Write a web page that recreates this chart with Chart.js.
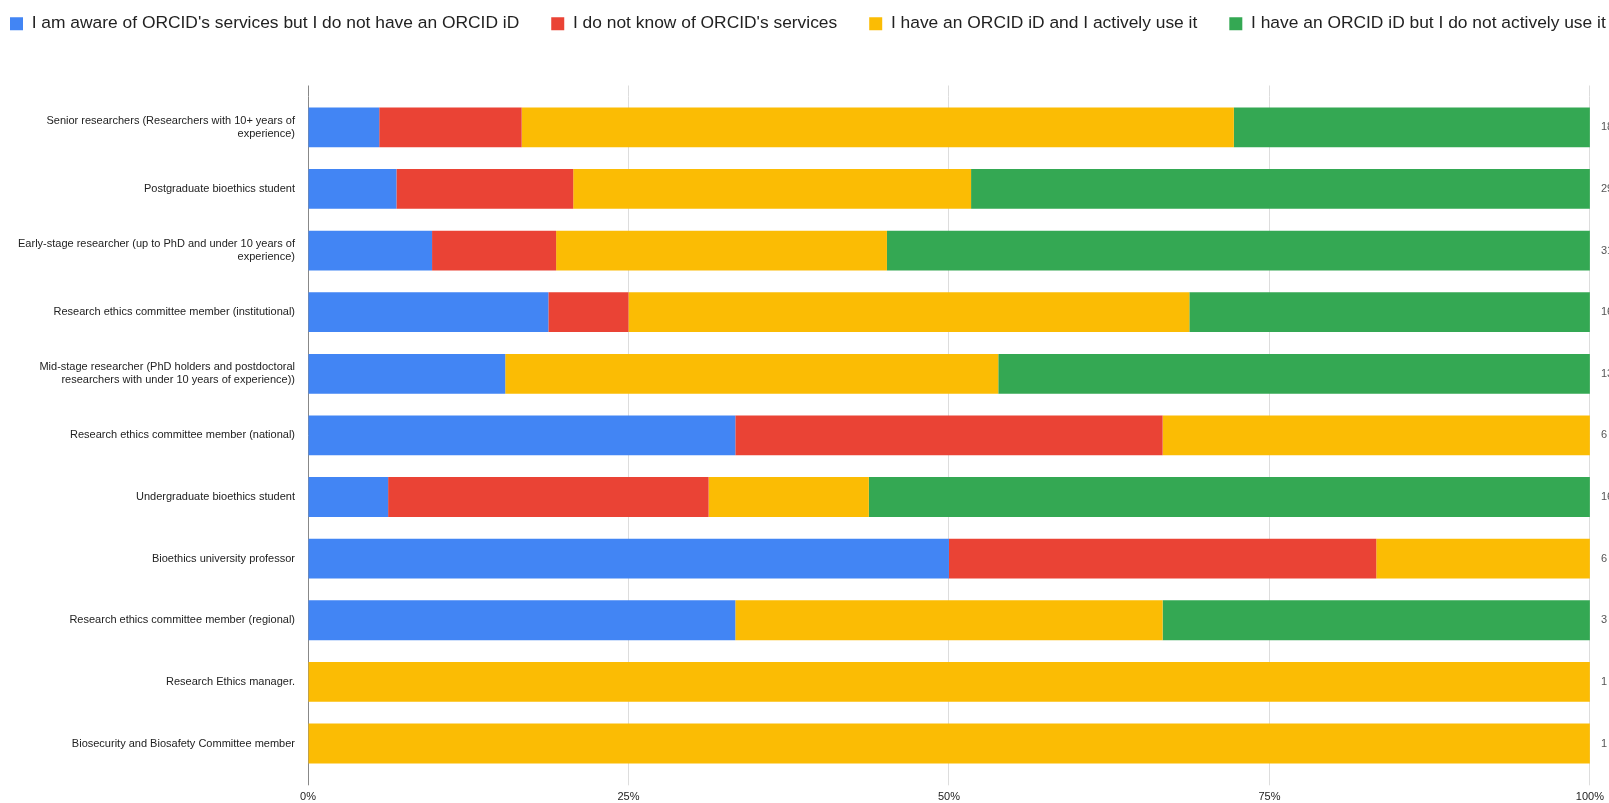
<!DOCTYPE html>
<html>
<head>
<meta charset="utf-8">
<script src="https://cdn.jsdelivr.net/npm/chart.js@4"></script>
<style>
  body { margin: 0; background: #fff; }
  #wrap { width: 1609px; height: 803px; }
</style>
</head>
<body>
<div id="wrap"><canvas id="orcid-chart"></canvas></div>
<script>
const categories = [
  ['Senior researchers (Researchers with 10+ years of', 'experience)'],
  'Postgraduate bioethics student',
  ['Early-stage researcher (up to PhD and under 10 years of', 'experience)'],
  'Research ethics committee member (institutional)',
  ['Mid-stage researcher (PhD holders and postdoctoral', 'researchers with under 10 years of experience))'],
  'Research ethics committee member (national)',
  'Undergraduate bioethics student',
  'Bioethics university professor',
  'Research ethics committee member (regional)',
  'Research Ethics manager.',
  'Biosecurity and Biosafety Committee member'
];

// respondent counts per group
const awareNoId   = [1, 2, 3, 3, 2, 2, 1, 3, 1, 0, 0];
const notKnow     = [2, 4, 3, 1, 0, 2, 4, 2, 0, 0, 0];
const activeUse   = [10, 9, 8, 7, 5, 2, 2, 1, 1, 1, 1];
const notActive   = [5, 14, 17, 5, 6, 0, 9, 0, 1, 0, 0];

const xTicks = [0, 25, 50, 75, 100];

const totals = categories.map((c, i) => awareNoId[i] + notKnow[i] + activeUse[i] + notActive[i]);
const pct = arr => arr.map((v, i) => v / totals[i] * 100);

Chart.defaults.font.family = 'Arial, "Liberation Sans", sans-serif';

const totalsPlugin = {
  id: 'totals',
  afterDatasetsDraw(chart) {
    const ctx = chart.ctx, y = chart.scales.y, area = chart.chartArea;
    ctx.save();
    ctx.font = '11px Arial, "Liberation Sans", sans-serif';
    ctx.fillStyle = '#555';
    ctx.textAlign = 'left';
    ctx.textBaseline = 'middle';
    totals.forEach((t, i) => ctx.fillText(String(t), area.right + 11, y.getPixelForValue(i)));
    ctx.restore();
  }
};

// google style: grid lines poke out a bit above the plot
const gridTop = {
  id: 'gridTop',
  beforeDatasetsDraw(chart) {
    const ctx = chart.ctx, x = chart.scales.x, area = chart.chartArea;
    ctx.save();
    ctx.lineWidth = 1;
    xTicks.forEach(v => {
      const px = Math.round(x.getPixelForValue(v) - 0.5) + 0.5;
      ctx.strokeStyle = v === 0 ? '#888' : '#ddd';
      ctx.beginPath();
      ctx.moveTo(px, area.top - 11);
      ctx.lineTo(px, area.top);
      ctx.stroke();
    });
    ctx.restore();
  }
};

// one wide legend row near the top, big gap under it
const legendSpace = {
  id: 'legendSpace',
  beforeInit(chart) {
    const fit = chart.legend.fit;
    chart.legend.fit = function () {
      this.maxWidth = 2400;
      fit.call(this);
      this.height = 96.5;
    };
  },
  afterLayout(chart) {
    const lg = chart.legend;
    lg.top -= 17; lg.bottom -= 17;
    lg.left = 10 - lg.options.labels.padding;
    lg.right = 3000;
  }
};

new Chart(document.getElementById('orcid-chart'), {
  type: 'bar',
  plugins: [totalsPlugin, gridTop, legendSpace],
  data: {
    labels: categories,
    datasets: [
      { label: "I am aware of ORCID's services but I do not have an ORCID iD", data: pct(awareNoId), backgroundColor: '#4285F4' },
      { label: "I do not know of ORCID's services", data: pct(notKnow), backgroundColor: '#EA4335' },
      { label: 'I have an ORCID iD and I actively use it', data: pct(activeUse), backgroundColor: '#FBBC04' },
      { label: 'I have an ORCID iD but I do not actively use it', data: pct(notActive), backgroundColor: '#34A853' }
    ]
  },
  options: {
    indexAxis: 'y',
    responsive: true,
    maintainAspectRatio: false,
    animation: false,
    layout: { padding: { top: 0, right: 19, bottom: 0, left: 0 } },
    datasets: { bar: { categoryPercentage: 1, barPercentage: 0.646, borderWidth: 0 } },
    plugins: {
      legend: {
        position: 'top',
        align: 'start',
        labels: {
          boxWidth: 13,
          boxHeight: 13,
          padding: 32,
          color: '#222',
          font: { size: 17.4 }
        }
      },
      tooltip: { enabled: false }
    },
    scales: {
      x: {
        stacked: true,
        min: 0,
        max: 100,
        afterBuildTicks: s => { s.ticks = xTicks.map(v => ({ value: v })); },
        afterFit: s => { s.height = 28.7; },
        ticks: { callback: v => v + '%', color: '#222', font: { size: 11 }, padding: 5, maxRotation: 0 },
        grid: {
          color: c => c.tick && c.tick.value === 0 ? '#888' : '#ddd',
          tickLength: 11,
          tickColor: c => c.tick && c.tick.value === 0 ? '#888' : '#ddd'
        },
        border: { display: false }
      },
      y: {
        stacked: true,
        afterFit: s => { s.width = 308; },
        ticks: { color: '#222', font: { size: 11 }, padding: 5 },
        grid: { display: false },
        border: { display: false }
      }
    }
  }
});
</script>
</body>
</html>
